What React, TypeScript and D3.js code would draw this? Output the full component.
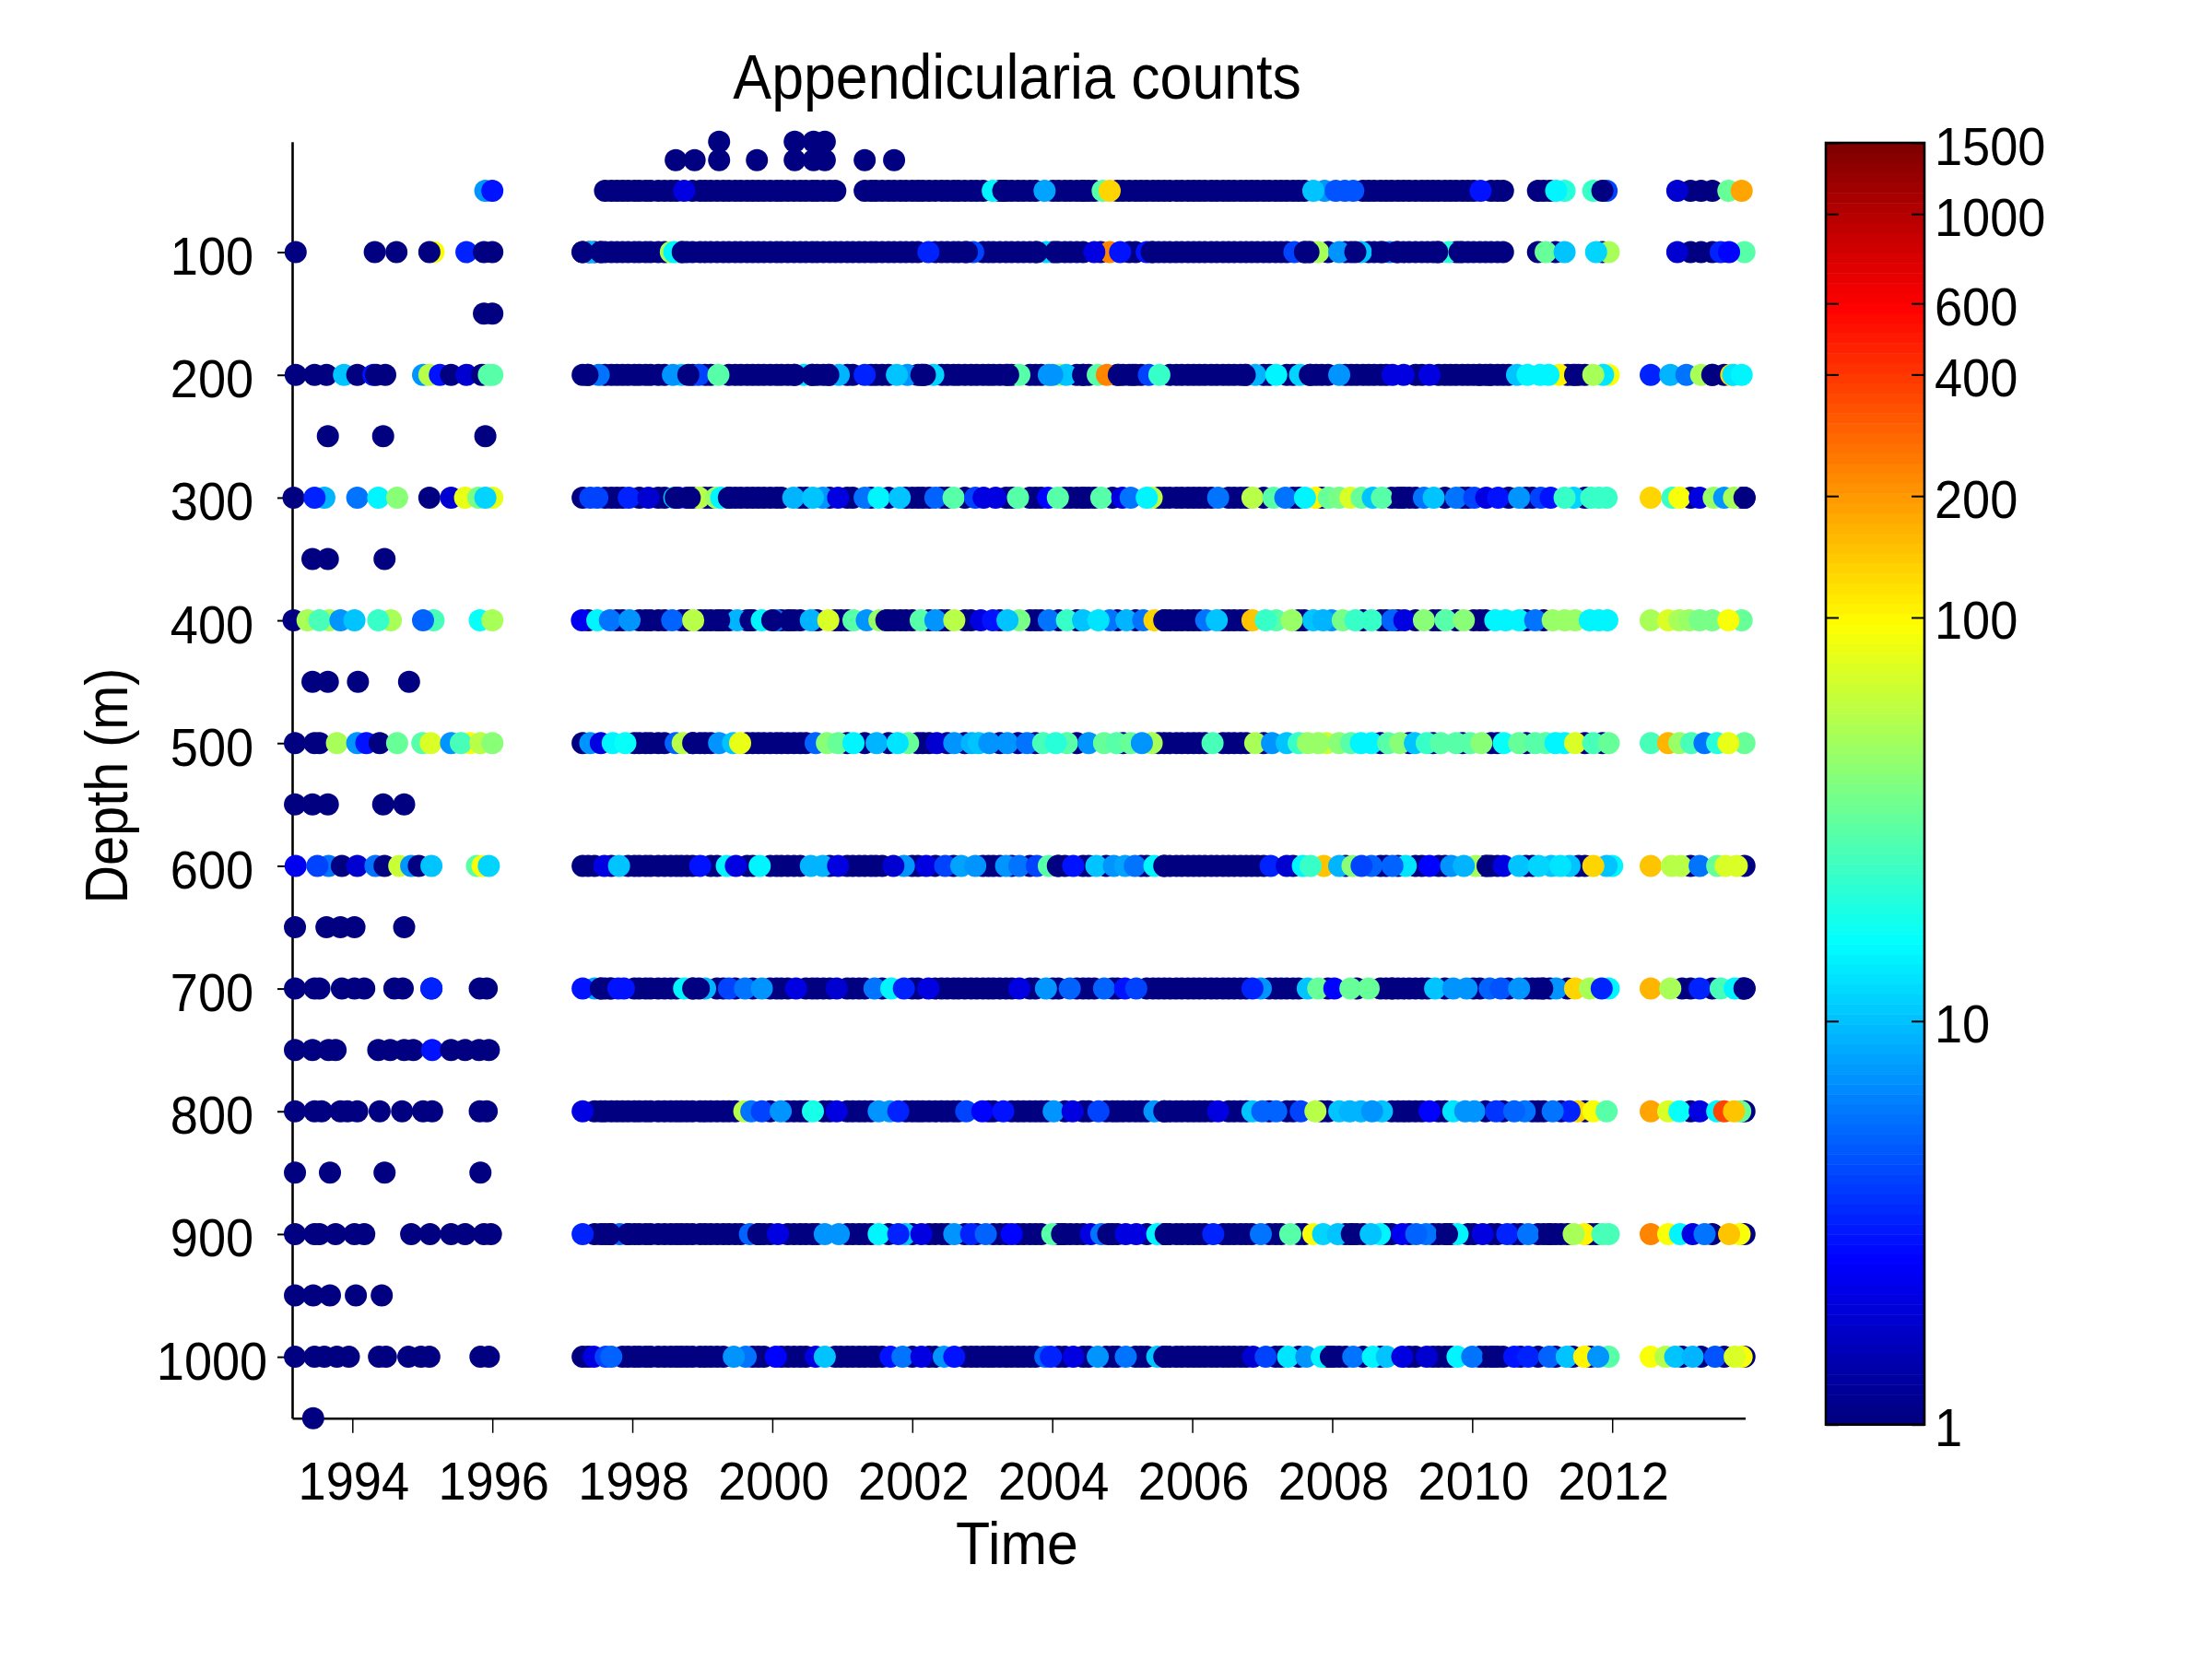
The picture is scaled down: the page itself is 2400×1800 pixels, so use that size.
import React, { useEffect, useRef } from 'react';
import * as d3 from 'd3';

type Sample = [number, number]; // [decimal year, count]

const titleText = 'Appendicularia counts';
const xLabelText = 'Time';
const yLabelText = 'Depth (m)';
const yearTicks = [1994, 1996, 1998, 2000, 2002, 2004, 2006, 2008, 2010, 2012];
const depthTicks = [100, 200, 300, 400, 500, 600, 700, 800, 900, 1000];
const colorTicks = [1, 10, 100, 200, 400, 600, 1000, 1500];

// sampling dates of the long series, count 1 unless a row says otherwise
const cruiseTimes = [
  1997.29, 1997.37, 1997.46, 1997.55, 1997.61, 1997.7, 1997.78, 1997.86, 1997.94, 1998.03, 1998.1, 1998.19, 1998.26, 1998.37,
  1998.46, 1998.55, 1998.63, 1998.7, 1998.78, 1998.86, 1998.97, 1999.04, 1999.12, 1999.21, 1999.3, 1999.38, 1999.47, 1999.55,
  1999.64, 1999.72, 1999.8, 1999.88, 1999.97, 2000.06, 2000.13, 2000.22, 2000.31, 2000.4, 2000.48, 2000.57, 2000.64, 2000.73,
  2000.82, 2000.9, 2000.98, 2001.07, 2001.15, 2001.24, 2001.32, 2001.41, 2001.48, 2001.57, 2001.66, 2001.74, 2001.83, 2001.91,
  2002.0, 2002.08, 2002.15, 2002.24, 2002.33, 2002.42, 2002.5, 2002.59, 2002.66, 2002.75, 2002.84, 2002.92, 2003.01, 2003.09,
  2003.16, 2003.25, 2003.34, 2003.42, 2003.51, 2003.59, 2003.68, 2003.76, 2003.84, 2003.92, 2004.01, 2004.09, 2004.18, 2004.26,
  2004.35, 2004.44, 2004.52, 2004.6, 2004.69, 2004.77, 2004.86, 2004.93, 2005.01, 2005.1, 2005.19, 2005.27, 2005.35, 2005.44,
  2005.52, 2005.6, 2005.68, 2005.77, 2005.85, 2005.94, 2006.02, 2006.1, 2006.18, 2006.27, 2006.35, 2006.44, 2006.52, 2006.6,
  2006.69, 2006.77, 2006.85, 2006.93, 2007.02, 2007.1, 2007.19, 2007.27, 2007.35, 2007.44, 2007.52, 2007.6, 2007.69, 2007.77,
  2007.85, 2007.94, 2008.02, 2008.1, 2008.19, 2008.27, 2008.35, 2008.44, 2008.52, 2008.6, 2008.69, 2008.77, 2008.85, 2008.94,
  2009.02, 2009.1, 2009.19, 2009.28, 2009.36, 2009.44, 2009.52, 2009.61, 2009.69, 2009.77, 2009.86, 2009.94, 2010.02, 2010.11,
  2010.19, 2010.27, 2010.36, 2010.44, 2010.52, 2010.6, 2010.69, 2010.77, 2010.86, 2010.94, 2011.02, 2011.11, 2011.19, 2011.27,
  2011.36, 2011.44, 2011.52, 2011.61, 2011.69, 2011.77, 2011.86, 2011.92, 2012.55, 2012.83, 2013.0, 2013.12, 2013.27, 2013.43,
  2013.6, 2013.74, 2013.86, 2013.89,
];

// periods when the two shallowest depths were not sampled
const shallowGaps = [[1990, 1997.6], [2010.5, 2010.92], [2011.35, 2011.7], [2011.95, 2013.0]];
const surfaceGaps = [[2000.96, 2001.3]];

const row10: Sample[] = [[1999.24, 1], [2000.32, 1], [2000.59, 1], [2000.75, 1]];
const row25: Sample[] = [
  [1998.62, 1], [1998.89, 1], [1999.24, 1], [1999.78, 1], [2000.32, 1], [2000.59, 1], [2000.75, 1], [2001.32, 1], [2001.74, 1],
];
const row50: Sample[] = [
  [1995.9, 7], [1996.0, 2.8],
  [1998.74, 2], [2003.15, 15], [2003.3, 1], [2003.89, 8], [2004.44, 1], [2004.72, 30], [2004.82, 130],
  [2007.89, 7], [2007.73, 10], [2008.18, 4.5], [2008.05, 4.5], [2008.3, 4.5], [2010.12, 2.8],
  [2011.32, 20], [2011.2, 14], [2011.73, 22], [2011.92, 4], [2011.86, 1], [2012.93, 1.8], [2013.66, 33], [2013.85, 180],
];
const row100: Sample[] = [
  [1993.19, 1], [1994.32, 1], [1994.63, 1], [1995.16, 95], [1995.1, 1], [1995.63, 3.5], [1995.88, 1], [1996.0, 1],
  [1997.29, 1], [1997.38, 1], [1997.46, 1], [1997.55, 1],
  [1997.41, 9], [1997.29, 1], [1997.55, 1], [1998.55, 50], [1998.6, 15], [1998.72, 1], [2002.23, 3.5], [2002.87, 4], [2002.78, 1],
  [2003.91, 12], [2003.78, 1], [2004.05, 1], [2004.82, 240], [2004.6, 2], [2004.97, 3], [2005.35, 2.8], [2005.42, 1],
  [2007.46, 4], [2007.61, 1], [2007.8, 50], [2007.66, 1], [2008.1, 7], [2008.41, 10], [2008.33, 1], [2008.82, 6], [2008.72, 1], [2008.92, 1],
  [2009.66, 20], [2009.5, 1], [2009.82, 1], [2011.05, 33], [2011.32, 11], [2011.95, 50], [2011.77, 12],
  [2012.93, 1.8], [2013.55, 3.5], [2013.89, 30], [2013.67, 2.5],
];
const row150: Sample[] = [[1995.88, 1], [1996.0, 1]];
const row200: Sample[] = [
  [1993.19, 1], [1993.46, 1], [1993.63, 1], [1993.88, 10], [1994.07, 1], [1994.3, 3], [1994.34, 1], [1994.47, 1],
  [1995.01, 7], [1995.1, 55], [1995.25, 3], [1995.41, 1], [1995.63, 1.8], [1995.85, 1], [1995.95, 28], [1996.0, 30],
  [1997.52, 6], [1997.36, 1], [1998.7, 10], [1998.58, 7], [1998.95, 4], [1998.8, 1], [1999.23, 30],
  [2000.45, 13], [2000.32, 1], [2000.57, 1], [2000.95, 9], [2000.8, 1], [2001.32, 3.5], [2001.93, 7], [2001.78, 10],
  [2002.3, 12], [2002.13, 1], [2002.18, 1], [2003.53, 30], [2003.37, 1], [2003.95, 7], [2004.1, 45], [2004.2, 10], [2004.0, 7],
  [2004.44, 1], [2004.65, 28], [2004.78, 220], [2004.95, 1], [2005.15, 1], [2005.38, 4], [2005.53, 22],
  [2006.9, 9], [2006.75, 1], [2007.2, 14], [2007.54, 12], [2007.68, 1], [2008.1, 7], [2008.86, 2], [2009.02, 2], [2009.39, 2],
  [2010.1, 1], [2010.25, 1], [2010.64, 10], [2010.79, 14], [2011.24, 100], [2010.97, 14], [2011.09, 14],
  [2011.47, 1], [2011.95, 95], [2011.87, 13], [2011.73, 50],
  [2012.55, 3.5], [2012.83, 9], [2013.06, 6], [2013.27, 50], [2013.43, 1], [2013.7, 130], [2013.73, 13], [2013.85, 15],
];
const row250: Sample[] = [[1993.65, 1], [1994.44, 1], [1995.9, 1]];
const row300: Sample[] = [
  [1993.16, 1], [1993.6, 9], [1993.46, 3.5], [1994.07, 6], [1994.37, 14], [1994.64, 40], [1995.1, 1], [1995.41, 1.8],
  [1995.61, 85], [1996.0, 80], [1995.8, 35], [1995.9, 12],
  [1997.4, 4], [1997.5, 4], [1997.95, 3.5], [1998.23, 1.8], [1998.6, 10], [1998.66, 1.8], [1998.62, 1], [1998.95, 60], [1998.82, 1],
  [1999.2, 45], [1999.27, 15], [1999.38, 1], [2000.3, 9], [2000.72, 7], [2000.58, 10], [2000.94, 2], [2001.32, 6], [2001.52, 15], [2001.82, 11],
  [2002.33, 5], [2002.59, 30], [2002.9, 4], [2003.19, 2], [2003.02, 2],
  [2003.51, 30], [2003.94, 2.5], [2004.08, 30], [2004.44, 1], [2004.7, 28], [2005.0, 2], [2005.12, 6], [2005.42, 55], [2005.35, 15],
  [2006.37, 6], [2006.86, 55], [2007.16, 30], [2007.33, 6], [2007.76, 100], [2007.61, 15], [2007.95, 33], [2008.1, 38], [2008.26, 70], [2008.42, 33],
  [2008.58, 10], [2008.71, 28], [2009.0, 1], [2009.31, 6], [2009.45, 10], [2009.77, 6], [2010.03, 4], [2010.2, 2], [2010.37, 2.8], [2010.67, 7],
  [2010.98, 4], [2011.12, 3], [2011.45, 12], [2011.32, 22], [2011.7, 22], [2011.81, 22], [2011.92, 22],
  [2012.55, 130], [2012.86, 22], [2012.96, 95], [2013.25, 2.2], [2013.45, 45], [2013.6, 7], [2013.74, 50], [2013.89, 1],
];
const row350: Sample[] = [[1993.43, 1], [1993.65, 1], [1994.46, 1]];
const row400: Sample[] = [
  [1993.16, 1], [1993.36, 50], [1993.67, 50], [1993.53, 25], [1993.83, 7], [1994.03, 10], [1994.55, 50], [1994.37, 22],
  [1995.16, 25], [1995.01, 5.5], [1995.82, 16], [1996.0, 50],
  [1997.28, 2.3], [1997.5, 15], [1997.68, 6], [1997.96, 7], [1998.57, 5], [1998.87, 55], [1999.5, 9], [1999.24, 1], [1999.69, 1],
  [1999.85, 15], [2000.05, 6], [2000.0, 1], [2000.25, 1], [2000.55, 9], [2000.8, 75], [2001.16, 30], [2001.35, 7], [2001.53, 45], [2001.63, 1],
  [2002.12, 30], [2002.33, 7], [2002.6, 55], [2002.98, 2], [2003.15, 3],
  [2003.53, 35], [2003.36, 11], [2003.95, 6], [2004.21, 22], [2004.44, 10], [2004.82, 6], [2004.66, 13], [2005.06, 9], [2005.3, 6],
  [2005.46, 130], [2005.6, 1], [2006.2, 6], [2006.35, 10], [2006.86, 140], [2007.2, 30], [2007.05, 22], [2007.42, 45],
  [2007.73, 10], [2007.99, 7], [2007.87, 9], [2008.15, 38], [2008.33, 22], [2008.56, 22], [2008.86, 5.5], [2009.03, 2], [2009.31, 42], [2009.62, 28], [2009.88, 42],
  [2010.33, 15], [2010.48, 15], [2010.67, 15], [2010.9, 6], [2011.15, 45], [2011.32, 48], [2011.47, 48], [2011.68, 14], [2011.81, 14], [2011.93, 14],
  [2012.55, 50], [2012.8, 70], [2012.96, 50], [2013.1, 45], [2013.25, 38], [2013.43, 38], [2013.85, 33], [2013.66, 90],
];
const row450: Sample[] = [[1993.43, 1], [1993.65, 1], [1994.08, 1], [1994.81, 1]];
const row500: Sample[] = [
  [1993.18, 1], [1993.46, 1], [1993.53, 1], [1993.78, 50], [1994.07, 7], [1994.2, 3], [1994.39, 1], [1994.64, 33],
  [1995.0, 30], [1995.12, 70], [1995.41, 7], [1995.68, 95], [1995.55, 25], [1995.83, 55], [1996.0, 40],
  [1997.4, 7], [1997.55, 2], [1997.72, 15], [1997.9, 16], [1998.62, 5], [1998.72, 60], [1998.87, 1], [1999.24, 7], [1999.44, 10], [1999.54, 80],
  [2000.62, 5], [2000.78, 40], [2000.94, 33], [2001.16, 15], [2001.49, 9], [2001.94, 33], [2001.79, 13], [2002.35, 1.8], [2002.6, 7],
  [2002.85, 9], [2002.95, 10], [2003.1, 7], [2003.36, 7], [2003.64, 6], [2003.87, 25], [2004.21, 28], [2004.05, 20], [2004.52, 7],
  [2004.74, 33], [2005.42, 50], [2004.92, 30], [2005.12, 33], [2005.28, 7], [2006.29, 26], [2006.9, 50], [2007.14, 7], [2007.35, 10],
  [2007.52, 22], [2007.65, 45], [2007.92, 65], [2007.8, 45], [2008.1, 40], [2008.27, 30], [2008.41, 15], [2008.56, 14], [2008.8, 28], [2008.97, 42],
  [2009.18, 10], [2009.35, 24], [2009.55, 28], [2009.77, 30], [2009.97, 28], [2010.13, 40], [2010.45, 16], [2010.67, 32], [2010.9, 30], [2011.05, 28], [2011.19, 15], [2011.32, 15],
  [2011.47, 70], [2011.73, 25], [2011.95, 33],
  [2012.55, 27], [2012.8, 170], [2012.96, 45], [2013.13, 25], [2013.32, 6], [2013.5, 20], [2013.89, 33], [2013.66, 85],
];
const row550: Sample[] = [[1993.18, 1], [1993.43, 1], [1993.65, 1], [1994.44, 1], [1994.74, 1]];
const row600: Sample[] = [
  [1993.19, 2.3], [1993.66, 6], [1993.5, 4], [1993.85, 1], [1994.07, 1.8], [1994.33, 6], [1994.46, 1], [1994.67, 65], [1994.84, 7], [1994.95, 1], [1995.13, 11],
  [1995.78, 30], [1995.86, 95], [1995.95, 12],
  [1997.6, 2], [1997.81, 10], [1998.97, 3], [1999.35, 14], [1999.48, 2], [1999.82, 14], [2000.55, 9], [2000.72, 9], [2000.94, 2],
  [2001.88, 7], [2001.73, 1.8], [2002.2, 2], [2002.47, 4], [2002.7, 8], [2002.9, 7],
  [2003.34, 7], [2003.53, 6], [2003.78, 4], [2003.95, 30], [2004.08, 1], [2004.3, 3], [2004.63, 10], [2004.88, 7], [2005.04, 8], [2005.18, 6],
  [2005.46, 14], [2005.6, 1], [2007.12, 3.5], [2007.35, 1.8], [2007.88, 140], [2007.58, 15], [2007.69, 24], [2008.1, 9], [2008.29, 40],
  [2008.56, 5], [2008.42, 4], [2009.05, 13], [2008.86, 5], [2009.39, 2.5], [2009.7, 7], [2010.05, 50], [2009.88, 9], [2010.22, 1], [2010.45, 2],
  [2010.67, 11], [2011.13, 11], [2010.95, 12], [2011.39, 10], [2011.26, 13], [2012.0, 14], [2011.92, 10], [2011.73, 130],
  [2012.55, 140], [2012.85, 60], [2012.98, 60], [2013.25, 6], [2013.5, 33], [2013.78, 75], [2013.62, 75],
];
const row650: Sample[] = [[1993.18, 1], [1993.63, 1], [1993.83, 1], [1994.03, 1], [1994.74, 1]];
const row700: Sample[] = [
  [1993.18, 1], [1993.46, 1], [1993.53, 1], [1993.85, 1], [1994.03, 1], [1994.17, 1], [1994.6, 1], [1994.72, 1], [1995.13, 1], [1995.13, 3.5], [1995.82, 1], [1995.92, 1],
  [1997.46, 8], [1997.29, 3], [1997.55, 1], [1997.68, 1], [1997.8, 3], [1997.88, 3], [1998.74, 14], [1998.87, 1], [1999.04, 9], [1998.95, 1],
  [1999.38, 4], [1999.61, 6], [1999.85, 7], [2000.34, 2], [2000.92, 1.8], [2001.46, 6], [2001.7, 15], [2001.88, 3.5], [2002.23, 2],
  [2003.53, 2.2], [2003.91, 7], [2004.25, 5], [2004.74, 5], [2005.04, 3], [2005.2, 4],
  [2006.98, 7], [2006.86, 3.5], [2007.65, 11], [2007.8, 33], [2008.03, 2.5], [2008.26, 33], [2008.52, 33], [2008.86, 1],
  [2009.47, 10], [2009.73, 7], [2009.92, 7], [2010.25, 5], [2010.41, 4.5], [2010.67, 7], [2011.2, 7], [2011.0, 1], [2011.47, 130],
  [2011.95, 14], [2011.68, 50], [2011.85, 3.2],
  [2012.55, 170], [2012.83, 50], [2013.25, 3.5], [2013.55, 25], [2013.75, 14], [2013.89, 1],
];
const row750: Sample[] = [
  [1993.18, 1], [1993.43, 1], [1993.66, 1], [1993.76, 1], [1994.37, 1], [1994.54, 1], [1994.74, 1], [1994.87, 1], [1995.14, 3], [1995.41, 1], [1995.61, 1], [1995.81, 1], [1995.95, 1],
];
const row800: Sample[] = [
  [1993.18, 1], [1993.46, 1], [1993.56, 1], [1993.83, 1], [1993.93, 1], [1994.07, 1], [1994.39, 1], [1994.71, 1], [1995.01, 1], [1995.14, 1], [1995.82, 1], [1995.92, 1],
  [1997.29, 2], [1999.6, 60], [1999.7, 6], [1999.85, 4], [2000.12, 7], [2000.58, 18], [2000.92, 2], [2001.68, 7], [2001.52, 7], [2001.8, 3.2],
  [2002.77, 4], [2003.0, 2.6], [2003.3, 3], [2004.02, 7], [2004.29, 2], [2004.66, 4], [2005.46, 7], [2005.6, 1], [2006.37, 2],
  [2006.86, 11], [2007.2, 5], [2007.0, 5], [2007.55, 4], [2007.76, 60], [2008.1, 10], [2008.41, 9], [2008.25, 9], [2008.71, 10], [2008.57, 7],
  [2009.39, 2.7], [2009.73, 13], [2009.9, 7], [2010.03, 7], [2010.34, 3.6], [2010.75, 6], [2010.6, 5], [2011.5, 130], [2011.39, 3.2], [2011.15, 6],
  [2011.73, 95], [2011.92, 30],
  [2012.55, 180], [2012.8, 70], [2012.96, 16], [2013.25, 2], [2013.5, 15], [2013.6, 380], [2013.89, 1], [2013.83, 33], [2013.74, 140],
];
const row850: Sample[] = [[1993.18, 1], [1993.68, 1], [1994.46, 1], [1995.83, 1]];
const row900: Sample[] = [
  [1993.18, 1], [1993.46, 1], [1993.53, 1], [1993.76, 1], [1994.03, 1], [1994.17, 1], [1994.84, 1], [1995.11, 1], [1995.41, 1], [1995.61, 1], [1995.88, 1], [1995.98, 1],
  [1997.29, 3.5], [1997.82, 5], [1997.94, 1], [1997.68, 1], [1999.68, 5], [1999.8, 1], [2000.08, 2], [2000.75, 7], [2000.95, 7], [2001.52, 14], [2001.9, 10], [2001.8, 3.5], [2002.13, 2],
  [2002.6, 7], [2002.84, 3.5], [2003.05, 5], [2003.42, 2.5], [2004.0, 28], [2004.14, 1], [2004.55, 2.2], [2004.7, 6], [2004.8, 1], [2005.05, 2.2], [2005.2, 2],
  [2005.5, 14], [2005.62, 1], [2006.3, 3.5], [2006.98, 6], [2007.4, 30], [2007.73, 95], [2007.87, 12], [2008.08, 10], [2008.28, 1], [2008.68, 14], [2008.55, 10], [2009.0, 2.4], [2009.34, 6], [2009.2, 5],
  [2009.79, 14], [2009.64, 1], [2010.15, 2], [2010.5, 3.5], [2010.8, 6], [2011.1, 1], [2011.6, 100], [2011.45, 50], [2011.86, 25], [2011.95, 25],
  [2012.55, 240], [2012.8, 95], [2012.97, 14], [2013.15, 2], [2013.32, 6], [2013.89, 1], [2013.82, 95], [2013.67, 150],
];
const row950: Sample[] = [[1993.18, 1], [1993.44, 1], [1993.68, 1], [1994.05, 1], [1994.42, 1]];
const row1000: Sample[] = [
  [1993.18, 1], [1993.46, 1], [1993.6, 1], [1993.78, 1], [1993.95, 1], [1994.38, 1], [1994.48, 1], [1994.8, 1], [1994.98, 1], [1995.1, 1], [1995.83, 1], [1995.95, 1],
  [1997.45, 2], [1997.62, 4], [1997.7, 5], [1999.62, 6], [1999.45, 7], [2000.05, 2.5], [2000.62, 2], [2000.75, 10], [2001.69, 3], [2001.86, 6], [2002.13, 2], [2002.45, 7], [2002.6, 3],
  [2003.9, 5], [2003.98, 3.5], [2004.3, 2], [2004.65, 7], [2005.05, 6], [2005.5, 10], [2005.6, 1], [2006.87, 1.9], [2007.05, 4],
  [2007.37, 13], [2007.63, 7], [2007.85, 15], [2007.98, 1], [2008.3, 6], [2008.58, 15], [2008.78, 10], [2009.0, 2], [2009.35, 1.8], [2009.79, 15], [2010.0, 6], [2010.3, 1],
  [2010.6, 3], [2010.8, 3.5], [2011.1, 5.5], [2011.35, 10], [2011.6, 100], [2011.95, 30], [2011.8, 7],
  [2012.55, 95], [2012.76, 55], [2012.9, 11], [2013.15, 9], [2013.47, 4.5], [2013.89, 1], [2013.85, 90], [2013.75, 75],
];
const row1050: Sample[] = [[1993.44, 1]];

const outside = (t: number, gaps: number[][]) => !gaps.some(([a, b]) => t > a && t < b);
const shallowTimes = cruiseTimes.filter((t) => outside(t, shallowGaps));
const surfaceTimes = shallowTimes.filter((t) => outside(t, surfaceGaps));

const rows: [number, Sample[], number[]][] = [
  [10, row10, []],
  [25, row25, []],
  [50, row50, surfaceTimes],
  [100, row100, shallowTimes],
  [150, row150, []],
  [200, row200, cruiseTimes],
  [250, row250, []],
  [300, row300, cruiseTimes],
  [350, row350, []],
  [400, row400, cruiseTimes],
  [450, row450, []],
  [500, row500, cruiseTimes],
  [550, row550, []],
  [600, row600, cruiseTimes],
  [650, row650, []],
  [700, row700, cruiseTimes],
  [750, row750, []],
  [800, row800, cruiseTimes],
  [850, row850, []],
  [900, row900, cruiseTimes],
  [950, row950, []],
  [1000, row1000, cruiseTimes],
  [1050, row1050, []],
];

export default function App() {
  const svgRef = useRef<SVGSVGElement>(null);

  useEffect(() => {
    if (!svgRef.current) return;
    const svg = d3.select(svgRef.current);
    svg.selectAll('*').remove();

    const font = '"Liberation Sans", Arial, sans-serif';
    const plot = { left: 317, right: 1893.5, top: 153.7, bottom: 1538.7 };
    const bar = { left: 1981, right: 2088, top: 155, bottom: 1545.7 };

    const x = d3.scaleLinear().domain([1993.14, 2013.9]).range([plot.left, plot.right]);
    const y = d3.scaleLinear().domain([10, 1050]).range([plot.top, plot.bottom]);
    const c = d3.scaleLog().domain([1, 1500]).range([bar.bottom, bar.top]);

    // jet colormap on the log scale
    const jet = d3
      .scaleLinear<string>()
      .domain([0, 0.125, 0.375, 0.625, 0.875, 1])
      .range(['#000080', '#0000ff', '#00ffff', '#ffff00', '#ff0000', '#800000']);
    const frac = d3.scaleLog().domain([1, 1500]).range([0, 1]);
    const color = (v: number) => jet(Math.min(63, Math.floor(frac(v) * 64)) / 63);

    // axes under the dots
    const yAxis = svg
      .append('g')
      .attr('transform', `translate(${plot.left},0)`)
      .call(d3.axisLeft(y).tickValues(depthTicks).tickFormat(d3.format('d') as any).tickSize(16).tickSizeOuter(0));
    yAxis.select('.domain').attr('stroke', '#000').attr('stroke-width', 2.6);
    yAxis.selectAll('.tick line').attr('stroke', '#000').attr('stroke-width', 2);
    yAxis
      .selectAll('.tick text')
      .attr('x', 230 - plot.left)
      .attr('y', 24)
      .attr('dy', 0)
      .attr('text-anchor', 'middle')
      .attr('font-family', font)
      .attr('font-size', 57)
      .attr('fill', '#000');

    const xAxis = svg
      .append('g')
      .attr('transform', `translate(0,${plot.bottom})`)
      .call(d3.axisBottom(x).tickValues(yearTicks).tickFormat(d3.format('d') as any).tickSize(16).tickSizeOuter(0));
    xAxis.select('.domain').attr('stroke', '#000').attr('stroke-width', 2.6);
    xAxis.selectAll('.tick line').attr('stroke', '#000').attr('stroke-width', 1.5);
    xAxis
      .selectAll('.tick text')
      .attr('y', 88)
      .attr('dy', 0)
      .attr('x', 1)
      .attr('font-family', font)
      .attr('font-size', 57)
      .attr('fill', '#000');

    // dots: navy cruises first, except right under a coloured sample
    rows.forEach(([depth, samples, base]) => {
      const g = svg.append('g').attr('class', 'depth-' + depth);
      const navy = base.filter((t) => !samples.some(([s, v]) => v > 1 && Math.abs(s - t) < 0.08));
      const all: Sample[] = [...navy.map((t) => [t, 1] as Sample), ...samples];
      g.selectAll('circle')
        .data(all)
        .enter()
        .append('circle')
        .attr('cx', (d) => x(d[0]))
        .attr('cy', y(depth))
        .attr('r', 12)
        .attr('fill', (d) => color(d[1]));
    });

    // colorbar
    const cb = svg.append('g');
    const steps = d3.range(128);
    const stepH = (bar.bottom - bar.top) / 128;
    cb.selectAll('rect')
      .data(steps)
      .enter()
      .append('rect')
      .attr('x', bar.left)
      .attr('width', bar.right - bar.left)
      .attr('y', (i) => bar.bottom - (i + 1) * stepH)
      .attr('height', stepH + 0.5)
      .attr('fill', (i) => jet(i / 127));
    cb.append('rect')
      .attr('x', bar.left)
      .attr('y', bar.top)
      .attr('width', bar.right - bar.left)
      .attr('height', bar.bottom - bar.top)
      .attr('fill', 'none')
      .attr('stroke', '#000')
      .attr('stroke-width', 2.6);

    const cbRight = cb
      .append('g')
      .attr('transform', `translate(${bar.right},0)`)
      .call(d3.axisRight(c).tickValues(colorTicks).tickFormat(d3.format('d') as any).tickSize(-14).tickSizeOuter(0));
    cbRight.select('.domain').remove();
    cbRight.selectAll('.tick line').attr('stroke', '#000').attr('stroke-width', 2);
    cbRight
      .selectAll('.tick text')
      .attr('x', 11)
      .attr('y', 23)
      .attr('dy', 0)
      .attr('text-anchor', 'start')
      .attr('font-family', font)
      .attr('font-size', 57)
      .attr('fill', '#000');
    const cbLeft = cb
      .append('g')
      .attr('transform', `translate(${bar.left},0)`)
      .call(d3.axisLeft(c).tickValues(colorTicks).tickFormat(() => '').tickSize(-14).tickSizeOuter(0));
    cbLeft.select('.domain').remove();
    cbLeft.selectAll('.tick line').attr('stroke', '#000').attr('stroke-width', 2);

    // the reference type is a bit condensed along the text direction
    const condense = (sel: any, k: number) =>
      sel.each(function (this: SVGTextElement) {
        if (!this.textContent) return;
        this.setAttribute('lengthAdjust', 'spacingAndGlyphs');
        this.setAttribute('textLength', String(this.getComputedTextLength() * k));
      });
    condense(svg.selectAll('.tick text'), 0.95);

    // titles
    const title = svg
      .append('text')
      .attr('x', 1103.6)
      .attr('y', 106.7)
      .attr('text-anchor', 'middle')
      .attr('font-family', font)
      .attr('font-size', 69)
      .text(titleText);
    condense(title, 0.908);
    const xLabel = svg
      .append('text')
      .attr('x', 1103.5)
      .attr('y', 1697)
      .attr('text-anchor', 'middle')
      .attr('font-family', font)
      .attr('font-size', 64)
      .text(xLabelText);
    condense(xLabel, 0.95);
    const yLabel = svg
      .append('text')
      .attr('transform', 'translate(138,852.5) rotate(-90)')
      .attr('text-anchor', 'middle')
      .attr('font-family', font)
      .attr('font-size', 64)
      .text(yLabelText);
    condense(yLabel, 0.9);
  }, []);

  return <svg ref={svgRef} width={2400} height={1800} style={{ position: 'absolute', left: 0, top: 0, background: '#fff' }} />;
}
